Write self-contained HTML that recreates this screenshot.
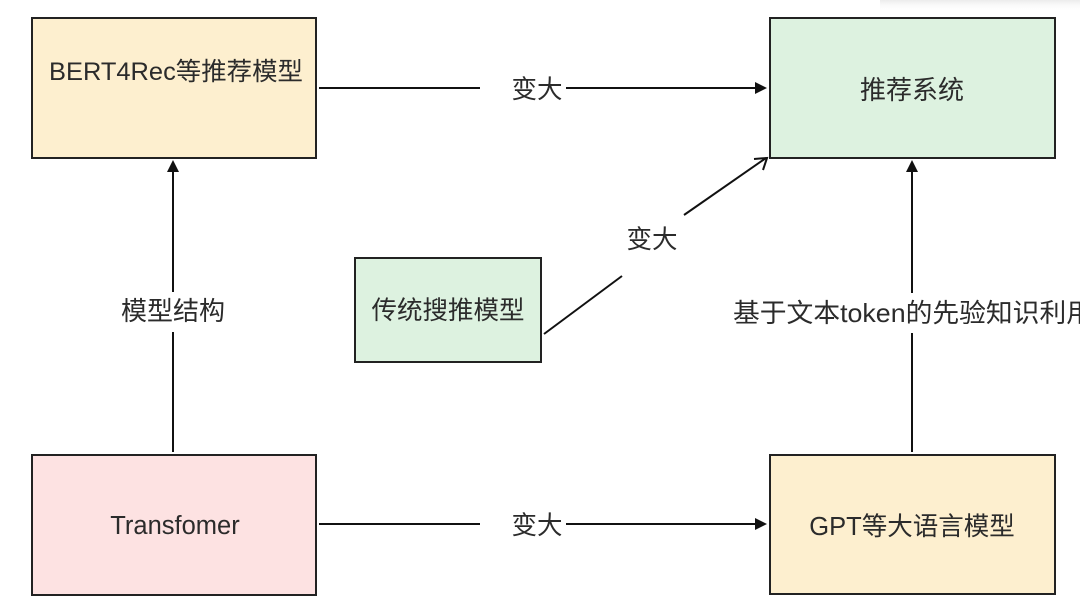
<!DOCTYPE html>
<html><head><meta charset="utf-8"><style>
html,body{margin:0;padding:0;background:#fff;}
svg{display:block;}
text{font-family:"Liberation Sans","Noto Sans CJK SC",sans-serif;fill:#2b2b2b;}
</style></head><body>
<svg width="1080" height="610" viewBox="0 0 1080 610" xmlns="http://www.w3.org/2000/svg">
<defs>
<linearGradient id="sh" x1="0" y1="0" x2="0" y2="1">
<stop offset="0" stop-color="#ececec"/><stop offset="1" stop-color="#ffffff" stop-opacity="0"/>
</linearGradient>
</defs>
<rect x="0" y="0" width="1080" height="610" fill="#fff"/>
<rect x="880" y="0" width="200" height="12" fill="url(#sh)"/>

<!-- Boxes -->
<rect x="32" y="18" width="284" height="140" fill="#fdefcf" stroke="#222" stroke-width="2"/>
<rect x="770" y="18" width="285" height="140" fill="#ddf2e0" stroke="#222" stroke-width="2"/>
<rect x="355" y="258" width="186" height="104" fill="#ddf2e0" stroke="#222" stroke-width="2"/>
<rect x="32" y="455" width="284" height="140" fill="#fde2e2" stroke="#222" stroke-width="2"/>
<rect x="770" y="455" width="285" height="139" fill="#fdefcf" stroke="#222" stroke-width="2"/>

<text x="176" y="72" font-size="25" text-anchor="middle" dominant-baseline="central" textLength="254" lengthAdjust="spacingAndGlyphs">BERT4Rec等推荐模型</text>
<text x="912" y="90" font-size="26" text-anchor="middle" dominant-baseline="central">推荐系统</text>
<text x="448" y="311" font-size="25.5" text-anchor="middle" dominant-baseline="central">传统搜推模型</text>
<text x="175" y="526" font-size="25.5" text-anchor="middle" dominant-baseline="central">Transfomer</text>
<text x="912" y="527" font-size="25.5" text-anchor="middle" dominant-baseline="central">GPT等大语言模型</text>

<!-- top arrow -->
<line x1="319" y1="88" x2="480" y2="88" stroke="#111" stroke-width="2"/>
<line x1="566" y1="88" x2="757" y2="88" stroke="#111" stroke-width="2"/>
<polygon points="767,88 755,82 755,94" fill="#111"/>
<text x="537" y="90" font-size="25.5" text-anchor="middle" dominant-baseline="central">变大</text>

<!-- bottom arrow -->
<line x1="319" y1="524" x2="480" y2="524" stroke="#111" stroke-width="2"/>
<line x1="566" y1="524" x2="757" y2="524" stroke="#111" stroke-width="2"/>
<polygon points="767,524 755,518 755,530" fill="#111"/>
<text x="537" y="526" font-size="25.5" text-anchor="middle" dominant-baseline="central">变大</text>

<!-- left vertical -->
<line x1="173" y1="452" x2="173" y2="332" stroke="#111" stroke-width="2"/>
<line x1="173" y1="292" x2="173" y2="170" stroke="#111" stroke-width="2"/>
<polygon points="173,160 167,172 179,172" fill="#111"/>
<text x="173" y="311" font-size="26" text-anchor="middle" dominant-baseline="central">模型结构</text>

<!-- right vertical -->
<line x1="912" y1="452" x2="912" y2="333" stroke="#111" stroke-width="2"/>
<line x1="912" y1="293" x2="912" y2="170" stroke="#111" stroke-width="2"/>
<polygon points="912,160 906,172 918,172" fill="#111"/>
<text x="733" y="313" font-size="26" dominant-baseline="central" textLength="360" lengthAdjust="spacingAndGlyphs">基于文本token的先验知识利用</text>

<!-- diagonal -->
<line x1="544" y1="334" x2="622" y2="276" stroke="#111" stroke-width="2"/>
<line x1="684" y1="215" x2="766" y2="158" stroke="#111" stroke-width="2"/>
<polyline points="754,159 767,158 763,170" fill="none" stroke="#111" stroke-width="2"/>
<text x="652" y="240" font-size="25.5" text-anchor="middle" dominant-baseline="central">变大</text>
</svg>
</body></html>
